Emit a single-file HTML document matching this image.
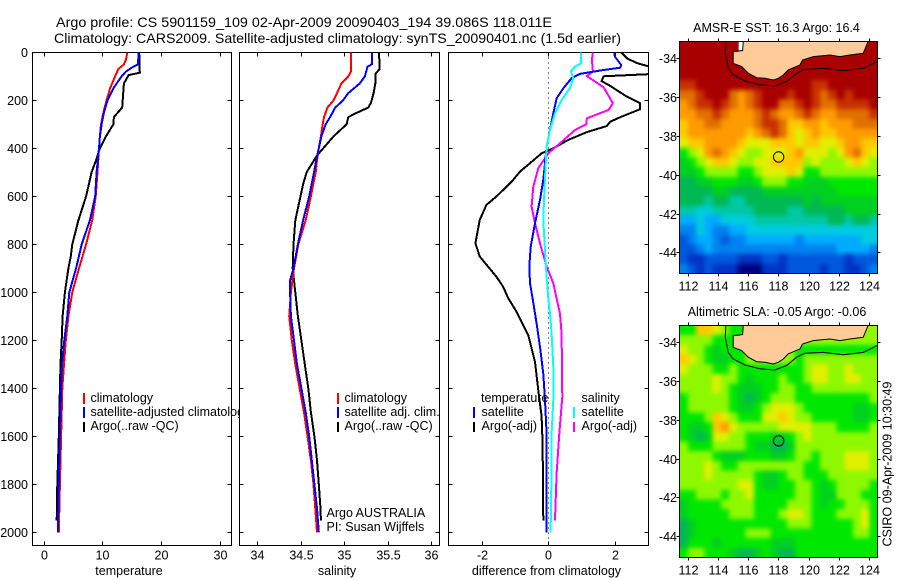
<!DOCTYPE html>
<html>
<head>
<meta charset="utf-8">
<title>Argo profile</title>
<style>
html,body{margin:0;padding:0;background:#fff;}
svg{display:block;}
text{font-family:"Liberation Sans",sans-serif;font-size:12.5px;fill:#000;}
</style>
</head>
<body>
<svg id="chart" xmlns="http://www.w3.org/2000/svg" width="900" height="580" viewBox="0 0 900 580">
<defs>
<clipPath id="clip-temp"><rect x="32.5" y="52.5" width="199" height="493"/></clipPath>
<clipPath id="clip-sal"><rect x="239.5" y="52.5" width="200" height="493"/></clipPath>
<clipPath id="clip-diff"><rect x="448.5" y="52.5" width="200" height="493"/></clipPath>
<clipPath id="clip-map1"><rect x="679.5" y="41.5" width="198" height="232"/></clipPath>
<clipPath id="clip-map2"><rect x="679.5" y="325.5" width="198" height="232"/></clipPath>
<filter id="cell-soften" filterUnits="userSpaceOnUse" x="650" y="10" width="250" height="570" color-interpolation-filters="sRGB"><feGaussianBlur stdDeviation="2.4"/></filter>
</defs>
<rect x="0" y="0" width="900" height="580" fill="#fff"/>
<text x="56" y="27" style="font-size:14px" textLength="496" lengthAdjust="spacingAndGlyphs">Argo profile: CS 5901159_109 02-Apr-2009 20090403_194 39.086S 118.011E</text>
<text x="54" y="43" style="font-size:14px" textLength="567" lengthAdjust="spacingAndGlyphs">Climatology: CARS2009. Satellite-adjusted climatology: synTS_20090401.nc (1.5d earlier)</text>

<g id="panel-temp"></g>
<g>
<rect x="83" y="393" width="2" height="11" fill="#f00"/>
<rect x="83" y="407" width="2" height="11" fill="#00f"/>
<rect x="83" y="422" width="2" height="10" fill="#000"/>
<text x="90.5" y="402">climatology</text>
<text x="90.5" y="416">satellite-adjusted climatology</text>
<text x="90.5" y="430">Argo(..raw -QC)</text>
</g>

<g id="panel-sal"></g>
<g>
<rect x="337" y="393" width="2" height="11" fill="#f00"/>
<rect x="337" y="407" width="2" height="11" fill="#00f"/>
<rect x="337" y="422" width="2" height="10" fill="#000"/>
<text x="344.5" y="402">climatology</text>
<text x="344.5" y="416">satellite adj. clim.</text>
<text x="344.5" y="430">Argo(..raw -QC)</text>
<text x="326.5" y="517">Argo AUSTRALIA</text>
<text x="326.5" y="531">PI: Susan Wijffels</text>
</g>

<g id="panel-diff"></g>
<g>
<text x="481" y="402">temperature</text>
<rect x="473" y="407" width="2" height="11" fill="#00f"/>
<rect x="473" y="422" width="2" height="10" fill="#000"/>
<text x="481.5" y="416">satellite</text>
<text x="481.5" y="430">Argo(-adj)</text>
<text x="581.5" y="402">salinity</text>
<rect x="573" y="407" width="2" height="11" fill="#0ff"/>
<rect x="573" y="422" width="2" height="10" fill="#f0f"/>
<text x="581.5" y="416">satellite</text>
<text x="581.5" y="430">Argo(-adj)</text>
</g>

<text x="129" y="575" text-anchor="middle">temperature</text>
<text x="337" y="575" text-anchor="middle">salinity</text>
<text x="546.5" y="575" text-anchor="middle">difference from climatology</text>

<text x="776.5" y="32" text-anchor="middle">AMSR-E SST: 16.3 Argo: 16.4</text>
<g id="map-sst"></g>
<text x="777" y="316" text-anchor="middle">Altimetric SLA: -0.05 Argo: -0.06</text>
<g id="map-sla"></g>
<text transform="translate(891.5,546.5) rotate(-90)" textLength="165" lengthAdjust="spacingAndGlyphs">CSIRO 09-Apr-2009 10:30:49</text>
</svg>
<script>
var depthTicks = [0,200,400,600,800,1000,1200,1400,1600,1800,2000];
var tempTicks = [0,10,20,30];
var salTicks = [34,34.5,35,35.5,36];
var diffTicks = [-2,0,2];
var lonTicks = [112,114,116,118,120,122,124];
var latTicks = [-34,-36,-38,-40,-42,-44];

var tempClimDepth = [0,30,50,70,100,150,200,250,300,350,400,500,600,700,800,900,1000,1100,1200,1300,1400,1600,1800,2000];
var tempClimValue = [14.3,14.05,13.7,12.75,12.2,11.35,10.75,10.2,9.8,9.6,9.45,9.2,8.9,8.3,7.25,6.05,4.9,4.25,3.8,3.5,3.2,3.0,2.8,2.6];
var tempSatDepth = [0,50,60,80,100,150,200,250,300,350,400,500,600,700,800,900,1000,1100,1200,1300,1400,1600,1800,2000];
var tempSatValue = [16.2,16.1,15.3,14.05,13.3,11.9,10.9,10.3,9.9,9.6,9.45,9.05,8.8,7.9,6.5,5.55,4.4,4.05,3.55,3.15,3.0,2.8,2.6,2.45];
var tempArgoDepth = [0,85,95,130,200,230,270,300,350,400,450,500,600,700,800,850,900,1000,1100,1200,1300,1400,1600,1800,1950];
var tempArgoValue = [16.3,16.4,14.5,13.7,13.5,13.4,12.0,11.9,10.65,9.6,8.95,8.2,7.25,5.95,4.9,4.65,4.25,3.65,3.25,3.1,2.9,2.8,2.6,2.35,2.25];

var salClimDepth = [0,80,100,130,170,200,230,270,300,350,400,450,500,600,700,800,900,1000,1100,1200,1300,1400,1500,1600,1700,1800,1900,2000];
var salClimValue = [35.08,35.08,35.05,34.97,34.92,34.88,34.81,34.77,34.755,34.735,34.71,34.69,34.675,34.62,34.56,34.475,34.425,34.39,34.37,34.4,34.44,34.49,34.54,34.58,34.62,34.65,34.67,34.69];
var salSatDepth = [0,50,60,100,130,170,200,230,270,300,350,400,450,500,600,700,800,900,950,1000,1100,1200,1300,1400,1500,1600,1700,1800,1900,2000];
var salSatValue = [35.32,35.32,35.27,35.24,35.18,35.05,34.99,34.9,34.84,34.79,34.74,34.71,34.68,34.655,34.6,34.53,34.47,34.42,34.38,34.38,34.39,34.425,34.46,34.51,34.56,34.6,34.63,34.66,34.69,34.71];
var salArgoDepth = [0,50,70,90,130,170,210,230,250,270,300,350,430,500,550,600,700,800,900,1000,1100,1200,1300,1400,1500,1600,1700,1800,1900,1950];
var salArgoValue = [35.4,35.41,35.41,35.36,35.36,35.34,35.31,35.28,35.16,35.05,35.03,34.88,34.69,34.57,34.53,34.5,34.44,34.42,34.41,34.44,34.47,34.51,34.55,34.59,34.62,34.66,34.69,34.71,34.73,34.735];

var diffTempSatDepth = [0,18,53,64,76,90,108,150,192,254,324,393,462,532,615,712,810,893,962,1025,1130,1228,1339,1450,1589,2000];
var diffTempSatValue = [1.98,2.0,2.19,2.16,1.56,0.95,0.7,0.45,0.25,0.15,0.05,-0.05,-0.1,-0.15,-0.25,-0.4,-0.53,-0.57,-0.55,-0.47,-0.35,-0.25,-0.15,-0.1,-0.05,-0.05];
var diffTempArgoDepth = [0,25,45,60,72,88,100,120,140,185,212,237,268,289,307,333,365,400,421,462,497,539,601,636,699,796,851,935,976,1025,1082,1179,1290,1408,1517,1630,1950];
var diffTempArgoValue = [2.18,2.36,2.66,3.05,3.5,3.5,1.66,1.6,1.86,2.36,2.76,2.76,2.2,1.86,1.76,1.15,0.6,0.15,-0.2,-0.55,-0.85,-1.1,-1.56,-1.86,-2.06,-2.19,-2.06,-1.56,-1.36,-1.2,-0.95,-0.6,-0.4,-0.3,-0.2,-0.17,-0.15];
var diffSalSatDepth = [0,46,60,80,108,150,199,254,324,393,476,615,699,824,935,1025,1089,1172,1311,1450,1589,1728,2000];
var diffSalSatValue = [0.98,0.98,0.8,0.68,0.75,0.65,0.4,0.2,0.05,-0.05,-0.08,-0.13,-0.15,-0.1,-0.05,0,0.05,0.1,0.15,0.15,0.1,0.1,0.07];
var diffSalArgoDepth = [0,32,80,99,146,212,240,275,299,324,379,421,483,560,643,712,796,893,962,1025,1089,1172,1436,1589,1756,1950];
var diffSalArgoValue = [1.34,1.31,1.34,1.16,1.66,1.94,1.81,1.16,1.14,0.8,0.35,0,-0.3,-0.45,-0.5,-0.4,-0.25,-0.05,0.15,0.25,0.35,0.4,0.42,0.33,0.25,0.2];

var sstGrid = [
[16,16,16,16,16,16,16,16,16,16,16,16,16,16,16,16,16,16,16,16,16,16,16,16],
[16,16,16,16,16,16,16,16,16,16,16,16,16,16,16,16,16,16,16,16,16,16,16,16],
[16,16,16,16,16,16,16,16,16,16,16,16,16,16,16,16,16,16,16,16,16,16,16,16],
[16,16,16,16,16,16,16,16,16,16,16,16,16,16,16,16,16,16,16,16,16,16,16,16],
[15,15,16,16,16,16,16,16,16,16,16,16,16,16,16,16,15,15,16,16,16,16,16,16],
[14,14,15,16,16,16,14,13,14,15,16,16,16,15,16,16,15,14,15,16,15,16,16,16],
[13,14,15,15,16,15,14,13,14,15,16,16,14,14,15,16,15,14,14,15,15,15,15,16],
[13,13,14,14,15,14,13,13,13,14,15,14,13,13,14,15,14,13,13,14,14,14,14,15],
[12,13,13,14,14,13,13,13,13,14,15,15,14,12,12,13,13,12,13,13,13,14,14,14],
[12,13,13,13,13,13,13,13,12,13,14,15,14,12,11,12,13,12,12,13,13,13,13,13],
[11,12,12,13,13,13,13,12,11,11,11,12,12,12,11,12,12,11,11,12,13,13,12,12],
[9,10,11,13,14,13,12,11,10,10,11,11,11,12,13,11,11,11,10,11,13,14,12,11],
[8,9,10,11,12,12,11,10,10,11,11,12,12,12,12,10,11,10,10,10,11,12,11,10],
[8,8,9,10,10,10,10,9,9,10,11,11,11,12,11,9,9,10,10,10,10,10,10,10],
[7,7,8,8,9,9,9,8,8,9,10,10,10,9,9,8,8,8,9,9,9,9,9,9],
[7,7,7,7,8,8,7,7,7,7,8,8,8,8,8,8,8,8,8,9,9,9,9,9],
[7,7,7,6,7,7,6,6,7,7,7,7,7,7,7,8,7,8,8,8,8,8,8,8],
[6,6,5,5,6,6,6,6,6,7,7,7,7,6,6,7,7,7,7,7,8,8,8,8],
[4,4,5,4,4,5,5,5,5,6,6,6,6,6,6,6,6,6,7,7,6,7,7,6],
[3,3,5,4,3,3,4,4,5,5,5,5,5,5,5,5,5,5,5,5,5,5,5,5],
[2,3,4,4,3,2,3,3,4,4,4,4,4,4,3,4,4,4,4,4,4,4,5,5],
[2,2,3,4,3,3,3,3,3,3,3,3,3,3,3,3,3,3,3,4,4,4,4,3],
[2,1,1,2,2,2,2,1,1,1,2,2,1,2,2,2,2,2,2,2,1,2,2,2],
[3,2,1,2,1,1,1,0,0,0,1,1,1,2,2,2,2,1,2,2,1,1,2,3]
];
var slaGrid = [
[9,9,12,12,11,10,9,9,10,10,10,10,10,10,10,10,10,10,10,10,10,10,10,10],
[10,10,10,10,9,9,9,9,10,10,10,10,10,10,10,10,10,10,10,10,10,10,10,10],
[11,10,10,9,8,9,9,9,10,10,10,10,10,10,9,9,9,9,9,9,9,9,9,9],
[12,11,10,9,8,8,9,9,10,10,10,10,10,10,9,10,10,10,10,10,10,10,10,10],
[11,10,10,10,9,9,10,9,9,9,9,9,9,9,9,10,11,11,10,10,11,10,10,10],
[10,10,10,10,11,10,10,9,8,9,9,9,10,9,9,10,11,11,10,10,11,11,10,10],
[10,10,10,10,11,10,9,8,8,8,9,9,10,10,9,9,10,10,10,10,10,10,10,10],
[9,10,10,10,10,10,9,8,7,8,9,10,10,10,9,9,9,9,9,9,9,9,9,10],
[9,10,10,10,10,10,9,8,8,9,10,11,11,11,10,9,9,9,9,9,9,8,8,9],
[9,9,9,10,12,11,10,9,9,9,11,11,12,11,10,10,9,9,9,9,9,8,8,9],
[9,8,8,9,12,13,11,10,10,10,10,10,11,11,11,11,10,10,10,9,9,9,9,10],
[9,8,7,8,11,11,10,10,9,9,9,8,8,9,10,11,10,10,10,10,10,10,10,10],
[10,9,9,9,10,10,10,10,9,8,8,7,7,8,10,10,10,10,10,10,10,10,10,10],
[10,10,10,10,9,8,8,8,9,9,9,8,8,9,10,10,9,10,10,10,11,11,11,10],
[10,10,10,11,10,9,9,10,10,10,10,10,10,10,10,9,9,10,10,10,11,11,11,10],
[10,10,10,11,10,10,10,10,10,9,8,8,9,10,10,9,9,9,10,10,10,10,10,10],
[10,10,10,10,10,10,10,11,11,9,8,8,9,9,10,10,9,8,9,10,10,10,10,9],
[9,9,10,10,10,9,10,10,11,9,9,9,9,9,10,10,9,8,8,10,10,10,9,9],
[8,9,9,9,9,10,10,10,10,9,9,9,9,10,10,10,9,8,9,9,10,10,10,9],
[8,9,9,9,9,9,10,10,10,9,9,9,10,11,11,10,9,9,9,10,10,10,11,9],
[7,8,9,9,9,9,9,9,9,9,9,9,9,10,10,10,9,9,9,9,9,10,11,9],
[7,8,9,9,9,9,9,9,10,10,10,9,9,9,9,9,9,9,9,9,9,10,10,9],
[7,9,9,9,8,9,9,9,9,9,9,8,8,8,9,9,9,9,9,9,9,9,9,9],
[9,10,10,9,9,9,8,7,7,8,9,8,7,7,9,9,9,9,9,9,9,9,9,9]
];
var coastLon = [115.66,115.61,114.99,114.99,115.55,115.99,116.55,117.1,117.65,117.99,118.32,118.65,119.43,119.6,120.31,121.42,122.09,122.75,123.64,123.97];
var coastLat = [-33.12,-33.6,-33.66,-34.26,-34.43,-34.77,-35.0,-35.03,-35.12,-35.03,-34.86,-34.6,-34.34,-34.09,-33.91,-33.83,-33.91,-33.83,-33.74,-33.12];
var contourLon = [114.5,114.46,114.66,114.99,115.77,116.77,117.76,118.54,119.21,119.76,120.98,122.31,123.64,124.57];
var contourLat = [-33.12,-33.74,-34.52,-34.86,-35.17,-35.37,-35.43,-35.2,-34.77,-34.57,-34.52,-34.64,-34.52,-34.17];
var floatLon = [118.011];
var floatLat = [-39.086];

var palette = ['#000080','#0034c4','#0058dc','#0082f0','#00acff','#00cce0','#00c8a4','#00b854','#00d020','#00e800','#8ef800','#e0f000','#ffc800','#ff9a00','#e07000','#c83000','#a80000'];
var NS = 'http://www.w3.org/2000/svg';

function depthY(d){ return 52.3 + 0.24 * d; }
function tempX(v){ return 43.5 + 5.87 * v; }
function salX(v){ return 257 + 87 * (v - 34); }
function diffX(v){ return 548.3 + 33.3 * v; }
function lonX(v){ return 688.3 + 15.03 * (v - 112); }
function latY1(v){ return 58.3 + 19.4 * (-34 - v); }
function latY2(v){ return 342.3 + 19.37 * (-34 - v); }

function make(tag, parent){
  var el = document.createElementNS(NS, tag);
  parent.appendChild(el);
  return el;
}
function pointsOf(xs, ys, fx, fy){
  var out = [];
  for (var i = 0; i < xs.length; i++) out.push(fx(xs[i]).toFixed(1) + ',' + fy(ys[i]).toFixed(1));
  return out.join(' ');
}

function drawProfile(parent, clipId, values, depths, fx, color){
  var el = make('polyline', parent);
  
  
  el.setAttribute('points', pointsOf(values, depths, fx, depthY));
  el.setAttribute('fill', 'none');
  el.setAttribute('stroke', color);
  el.setAttribute('stroke-width', '2');
  el.setAttribute('shape-rendering', 'crispEdges');
  el.setAttribute('clip-path', 'url(#' + clipId + ')');
}

function drawTick(parent, x1, y1, x2, y2){
  var el = make('line', parent);
  
  
  el.setAttribute('x1', x1);
  el.setAttribute('y1', y1);
  el.setAttribute('x2', x2);
  el.setAttribute('y2', y2);
  el.setAttribute('stroke', '#000');
  el.setAttribute('stroke-width', '1');
  el.setAttribute('shape-rendering', 'crispEdges');
}
function drawLabel(parent, x, y, anchor, str){
  var el = make('text', parent);
  
  
  el.setAttribute('x', x);
  el.setAttribute('y', y);
  el.setAttribute('text-anchor', anchor);
  el.textContent = str;
}
function drawPanel(id, left, right, xTicks, fx, showDepthLabels){
  var g = document.getElementById(id);
  var bg = make('rect', g);
  
  
  bg.setAttribute('x', left);
  bg.setAttribute('y', 52.5);
  bg.setAttribute('width', right - left);
  bg.setAttribute('height', 493);
  bg.setAttribute('fill', '#fff');
  bg.setAttribute('stroke', '#000');
  bg.setAttribute('stroke-width', '1');
  bg.setAttribute('shape-rendering', 'crispEdges');
  depthTicks.forEach(function(d){
    var y = Math.round(depthY(d)) + 0.5;
    if (d > 0) {
      drawTick(g, left, y, left + 4, y);
      drawTick(g, right, y, right - 4, y);
    }
    if (showDepthLabels) drawLabel(g, 28, y + 4.5, 'end', String(d));
  });
  xTicks.forEach(function(v){
    var x = Math.round(fx(v)) + 0.5;
    drawTick(g, x, 52.5, x, 56.5);
    drawTick(g, x, 545.5, x, 541.5);
    drawLabel(g, x, 559.5, 'middle', String(v));
  });
  return g;
}
function drawMap(id, grid, fy, top, showCoastNotch){
  var g = document.getElementById(id);
  var left = 679.5, w = 198, h = 232;
  var rows = grid.length, cols = grid[0].length;
  var cw = w / cols, ch = h / rows;
  var clip = make('g', g);
  
  
  clip.setAttribute('clip-path', 'url(#' + (id === 'map-sst' ? 'clip-map1' : 'clip-map2') + ')');
  var cells = make('g', clip);
  
  
  cells.setAttribute('filter', 'url(#cell-soften)');
  grid.forEach(function(row, r){
    row.forEach(function(v, c){
      var cell = make('rect', cells);
      
      
      var bleedL = c === 0 ? 10 : 0, bleedR = c === cols - 1 ? 10 : 0;
      var bleedT = r === 0 ? 10 : 0, bleedB = r === rows - 1 ? 10 : 0;
      cell.setAttribute('x', (left + c * cw - bleedL).toFixed(2));
      cell.setAttribute('y', (top + r * ch - bleedT).toFixed(2));
      cell.setAttribute('width', (cw + 0.4 + bleedL + bleedR).toFixed(2));
      cell.setAttribute('height', (ch + 0.4 + bleedT + bleedB).toFixed(2));
      cell.setAttribute('fill', palette[Math.round(v)]);
      cell.setAttribute('shape-rendering', 'crispEdges');
    });
  });
  if (showCoastNotch) {
    var notch = make('rect', clip);
    
    
    notch.setAttribute('x', lonX(115.35));
    notch.setAttribute('y', fy(-33.12));
    notch.setAttribute('width', 5);
    notch.setAttribute('height', 10);
    notch.setAttribute('fill', '#fff');
  }
  var land = make('polygon', clip);
  
  
  land.setAttribute('points', pointsOf(coastLon, coastLat, lonX, fy));
  land.setAttribute('fill', '#ffcc99');
  land.setAttribute('stroke', '#000');
  land.setAttribute('stroke-width', '1');
  var contour = make('polyline', clip);
  
  
  contour.setAttribute('points', pointsOf(contourLon, contourLat, lonX, fy));
  contour.setAttribute('fill', 'none');
  contour.setAttribute('stroke', '#000');
  contour.setAttribute('stroke-width', '1');
  var marker = make('circle', clip);
  
  
  marker.setAttribute('cx', lonX(floatLon[0]));
  marker.setAttribute('cy', fy(floatLat[0]));
  marker.setAttribute('r', 5.2);
  marker.setAttribute('fill', 'none');
  marker.setAttribute('stroke', '#000');
  marker.setAttribute('stroke-width', '1');
  var frame = make('rect', g);
  
  
  frame.setAttribute('x', left);
  frame.setAttribute('y', top);
  frame.setAttribute('width', w);
  frame.setAttribute('height', h);
  frame.setAttribute('fill', 'none');
  frame.setAttribute('stroke', '#000');
  frame.setAttribute('stroke-width', '1');
  frame.setAttribute('shape-rendering', 'crispEdges');
  lonTicks.forEach(function(v){
    var x = Math.round(lonX(v)) + 0.5;
    drawTick(g, x, top, x, top - 3);
    drawTick(g, x, top + h, x, top + h + 3);
    drawLabel(g, x, top + h + 17, 'middle', String(v));
  });
  latTicks.forEach(function(v){
    var y = Math.round(fy(v)) + 0.5;
    drawTick(g, left, y, left - 3, y);
    drawTick(g, left + w, y, left + w + 3, y);
    drawLabel(g, 677, y + 4.5, 'end', String(v));
  });
}

var gTemp = drawPanel('panel-temp', 32.5, 231.5, tempTicks, tempX, true);
drawProfile(gTemp, 'clip-temp', tempArgoValue, tempArgoDepth, tempX, '#000');
drawProfile(gTemp, 'clip-temp', tempClimValue, tempClimDepth, tempX, '#f00');
drawProfile(gTemp, 'clip-temp', tempSatValue, tempSatDepth, tempX, '#00f');

var gSal = drawPanel('panel-sal', 239.5, 439.5, salTicks, salX, false);
drawProfile(gSal, 'clip-sal', salArgoValue, salArgoDepth, salX, '#000');
drawProfile(gSal, 'clip-sal', salClimValue, salClimDepth, salX, '#f00');
drawProfile(gSal, 'clip-sal', salSatValue, salSatDepth, salX, '#00f');

var gDiff = drawPanel('panel-diff', 448.5, 648.5, diffTicks, diffX, false);
var zeroLine = make('line', gDiff);


zeroLine.setAttribute('x1', Math.round(diffX(0)) + 0.5);
zeroLine.setAttribute('x2', Math.round(diffX(0)) + 0.5);
zeroLine.setAttribute('y1', 52.5);
zeroLine.setAttribute('y2', 545.5);
zeroLine.setAttribute('stroke', '#000');
zeroLine.setAttribute('stroke-width', '1');
zeroLine.setAttribute('stroke-dasharray', '1 4');
drawProfile(gDiff, 'clip-diff', diffTempArgoValue, diffTempArgoDepth, diffX, '#000');
drawProfile(gDiff, 'clip-diff', diffSalArgoValue, diffSalArgoDepth, diffX, '#f0f');
drawProfile(gDiff, 'clip-diff', diffTempSatValue, diffTempSatDepth, diffX, '#00f');
drawProfile(gDiff, 'clip-diff', diffSalSatValue, diffSalSatDepth, diffX, '#0ff');

drawMap('map-sst', sstGrid, latY1, 41.5, true);
drawMap('map-sla', slaGrid, latY2, 325.5, false);
</script>
</body>
</html>
